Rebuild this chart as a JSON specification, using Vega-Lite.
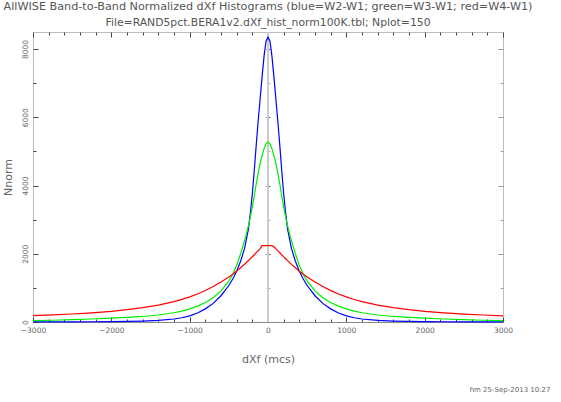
{
  "$schema": "https://vega.github.io/schema/vega-lite/v6.json",
  "width": 470,
  "height": 290,
  "autosize": {"type": "none"},
  "padding": {"left": 33, "top": 32, "right": 58, "bottom": 80},
  "background": "white",
  "config": {
    "font": "DejaVu Sans",
    "view": {"stroke": "#bdbdbd", "strokeWidth": 1},
    "axis": {"grid": false, "tickColor": "#444444", "tickWidth": 1, "labelColor": "#666666", "titleColor": "#666666", "titleFontWeight": "normal", "labelFont": "DejaVu Sans", "titleFont": "DejaVu Sans"}
  },
  "title": {
    "text": "AllWISE Band-to-Band Normalized dXf Histograms (blue=W2-W1; green=W3-W1; red=W4-W1)",
    "subtitle": "File=RAND5pct.BERA1v2.dXf_hist_norm100K.tbl; Nplot=150",
    "anchor": "middle",
    "frame": "group",
    "fontSize": 11.2,
    "fontWeight": "normal",
    "color": "#555555",
    "subtitleFontSize": 10.8,
    "subtitleColor": "#555555",
    "subtitlePadding": 5,
    "offset": 4
  },
  "data": {"values": [
    {"x":-3000,"n":3,"s":"b"},{"x":-2750,"n":4,"s":"b"},{"x":-2500,"n":5,"s":"b"},{"x":-2250,"n":7,"s":"b"},{"x":-2000,"n":11,"s":"b"},{"x":-1800,"n":16,"s":"b"},{"x":-1600,"n":26,"s":"b"},{"x":-1400,"n":46,"s":"b"},{"x":-1200,"n":88,"s":"b"},{"x":-1100,"n":125,"s":"b"},{"x":-1000,"n":180,"s":"b"},{"x":-900,"n":265,"s":"b"},{"x":-800,"n":385,"s":"b"},{"x":-700,"n":545,"s":"b"},{"x":-600,"n":770,"s":"b"},{"x":-500,"n":1070,"s":"b"},{"x":-450,"n":1260,"s":"b"},{"x":-400,"n":1490,"s":"b"},{"x":-350,"n":1780,"s":"b"},{"x":-300,"n":2150,"s":"b"},{"x":-250,"n":2720,"s":"b"},{"x":-225,"n":3200,"s":"b"},{"x":-200,"n":3750,"s":"b"},{"x":-175,"n":4450,"s":"b"},{"x":-150,"n":5200,"s":"b"},{"x":-125,"n":5900,"s":"b"},{"x":-100,"n":6550,"s":"b"},{"x":-75,"n":7200,"s":"b"},{"x":-50,"n":7800,"s":"b"},{"x":-25,"n":8230,"s":"b"},{"x":0,"n":8350,"s":"b"},
    {"x":25,"n":8230,"s":"b"},{"x":50,"n":7800,"s":"b"},{"x":75,"n":7200,"s":"b"},{"x":100,"n":6550,"s":"b"},{"x":125,"n":5900,"s":"b"},{"x":150,"n":5200,"s":"b"},{"x":175,"n":4450,"s":"b"},{"x":200,"n":3750,"s":"b"},{"x":225,"n":3200,"s":"b"},{"x":250,"n":2720,"s":"b"},{"x":300,"n":2150,"s":"b"},{"x":350,"n":1780,"s":"b"},{"x":400,"n":1490,"s":"b"},{"x":450,"n":1260,"s":"b"},{"x":500,"n":1070,"s":"b"},{"x":600,"n":770,"s":"b"},{"x":700,"n":545,"s":"b"},{"x":800,"n":385,"s":"b"},{"x":900,"n":265,"s":"b"},{"x":1000,"n":180,"s":"b"},{"x":1100,"n":125,"s":"b"},{"x":1200,"n":88,"s":"b"},{"x":1400,"n":46,"s":"b"},{"x":1600,"n":26,"s":"b"},{"x":1800,"n":16,"s":"b"},{"x":2000,"n":11,"s":"b"},{"x":2250,"n":7,"s":"b"},{"x":2500,"n":5,"s":"b"},{"x":2750,"n":4,"s":"b"},{"x":3000,"n":3,"s":"b"},
    {"x":-3000,"n":40,"s":"g"},{"x":-2750,"n":52,"s":"g"},{"x":-2500,"n":68,"s":"g"},{"x":-2250,"n":88,"s":"g"},{"x":-2000,"n":115,"s":"g"},{"x":-1800,"n":135,"s":"g"},{"x":-1600,"n":162,"s":"g"},{"x":-1400,"n":205,"s":"g"},{"x":-1200,"n":272,"s":"g"},{"x":-1100,"n":320,"s":"g"},{"x":-1000,"n":385,"s":"g"},{"x":-900,"n":465,"s":"g"},{"x":-800,"n":570,"s":"g"},{"x":-700,"n":710,"s":"g"},{"x":-600,"n":910,"s":"g"},{"x":-500,"n":1200,"s":"g"},{"x":-450,"n":1400,"s":"g"},{"x":-400,"n":1660,"s":"g"},{"x":-350,"n":2000,"s":"g"},{"x":-300,"n":2380,"s":"g"},{"x":-250,"n":2820,"s":"g"},{"x":-225,"n":3080,"s":"g"},{"x":-200,"n":3380,"s":"g"},{"x":-175,"n":3700,"s":"g"},{"x":-150,"n":4050,"s":"g"},{"x":-125,"n":4370,"s":"g"},{"x":-100,"n":4650,"s":"g"},{"x":-75,"n":4880,"s":"g"},{"x":-50,"n":5080,"s":"g"},{"x":-25,"n":5220,"s":"g"},{"x":0,"n":5275,"s":"g"},
    {"x":25,"n":5220,"s":"g"},{"x":50,"n":5080,"s":"g"},{"x":75,"n":4880,"s":"g"},{"x":100,"n":4650,"s":"g"},{"x":125,"n":4370,"s":"g"},{"x":150,"n":4050,"s":"g"},{"x":175,"n":3700,"s":"g"},{"x":200,"n":3380,"s":"g"},{"x":225,"n":3080,"s":"g"},{"x":250,"n":2820,"s":"g"},{"x":300,"n":2380,"s":"g"},{"x":350,"n":2000,"s":"g"},{"x":400,"n":1660,"s":"g"},{"x":450,"n":1400,"s":"g"},{"x":500,"n":1200,"s":"g"},{"x":600,"n":910,"s":"g"},{"x":700,"n":710,"s":"g"},{"x":800,"n":570,"s":"g"},{"x":900,"n":465,"s":"g"},{"x":1000,"n":385,"s":"g"},{"x":1100,"n":320,"s":"g"},{"x":1200,"n":272,"s":"g"},{"x":1400,"n":205,"s":"g"},{"x":1600,"n":162,"s":"g"},{"x":1800,"n":135,"s":"g"},{"x":2000,"n":115,"s":"g"},{"x":2250,"n":88,"s":"g"},{"x":2500,"n":68,"s":"g"},{"x":2750,"n":52,"s":"g"},{"x":3000,"n":40,"s":"g"},
    {"x":-3000,"n":185,"s":"r"},{"x":-2750,"n":207,"s":"r"},{"x":-2500,"n":234,"s":"r"},{"x":-2250,"n":270,"s":"r"},{"x":-2000,"n":314,"s":"r"},{"x":-1800,"n":362,"s":"r"},{"x":-1600,"n":422,"s":"r"},{"x":-1400,"n":497,"s":"r"},{"x":-1200,"n":597,"s":"r"},{"x":-1100,"n":662,"s":"r"},{"x":-1000,"n":737,"s":"r"},{"x":-900,"n":822,"s":"r"},{"x":-800,"n":922,"s":"r"},{"x":-700,"n":1042,"s":"r"},{"x":-600,"n":1172,"s":"r"},{"x":-500,"n":1322,"s":"r"},{"x":-450,"n":1402,"s":"r"},{"x":-400,"n":1492,"s":"r"},{"x":-350,"n":1592,"s":"r"},{"x":-300,"n":1692,"s":"r"},{"x":-250,"n":1802,"s":"r"},{"x":-225,"n":1857,"s":"r"},{"x":-200,"n":1912,"s":"r"},{"x":-175,"n":1972,"s":"r"},{"x":-150,"n":2032,"s":"r"},{"x":-125,"n":2092,"s":"r"},{"x":-100,"n":2152,"s":"r"},{"x":-75,"n":2236,"s":"r"},{"x":-50,"n":2236,"s":"r"},{"x":-25,"n":2236,"s":"r"},{"x":0,"n":2236,"s":"r"},
    {"x":25,"n":2236,"s":"r"},{"x":50,"n":2236,"s":"r"},{"x":75,"n":2205,"s":"r"},{"x":100,"n":2150,"s":"r"},{"x":125,"n":2090,"s":"r"},{"x":150,"n":2030,"s":"r"},{"x":175,"n":1970,"s":"r"},{"x":200,"n":1910,"s":"r"},{"x":225,"n":1855,"s":"r"},{"x":250,"n":1800,"s":"r"},{"x":300,"n":1690,"s":"r"},{"x":350,"n":1590,"s":"r"},{"x":400,"n":1490,"s":"r"},{"x":450,"n":1400,"s":"r"},{"x":500,"n":1320,"s":"r"},{"x":600,"n":1170,"s":"r"},{"x":700,"n":1040,"s":"r"},{"x":800,"n":920,"s":"r"},{"x":900,"n":820,"s":"r"},{"x":1000,"n":735,"s":"r"},{"x":1100,"n":660,"s":"r"},{"x":1200,"n":595,"s":"r"},{"x":1400,"n":495,"s":"r"},{"x":1600,"n":420,"s":"r"},{"x":1800,"n":360,"s":"r"},{"x":2000,"n":312,"s":"r"},{"x":2250,"n":268,"s":"r"},{"x":2500,"n":232,"s":"r"},{"x":2750,"n":205,"s":"r"},{"x":3000,"n":178,"s":"r"}
  ]},
  "resolve": {"axis": {"x": "independent", "y": "independent"}},
  "layer": [
    {
      "mark": {"type": "rule", "color": "#cccccc", "strokeWidth": 1},
      "encoding": {
        "x": {"datum": 0, "type": "quantitative", "scale": {"domain": [-3000, 3000], "nice": false, "zero": false}, "axis": null}
      }
    },
    {
      "mark": {"type": "line", "opacity": 0},
      "encoding": {
        "x": {"field": "x", "type": "quantitative", "scale": {"domain": [-3000, 3000], "nice": false, "zero": false},
          "axis": {"orient": "top", "values": [-3000,-2800,-2600,-2400,-2200,-2000,-1800,-1600,-1400,-1200,-1000,-800,-600,-400,-200,0,200,400,600,800,1000,1200,1400,1600,1800,2000,2200,2400,2600,2800,3000],
            "labels": false, "domain": false, "tickSize": {"condition": {"test": "datum.value % 1000 === 0", "value": -5}, "value": -3},
            "title": "hm 25-Sep-2013 10:27", "titleFontSize": 7, "titleX": 517, "titleY": 359, "titleAlign": "right", "titleBaseline": "alphabetic", "titleAngle": 0}},
        "y": {"field": "n", "type": "quantitative", "scale": {"domain": [0, 8500], "nice": false},
          "axis": {"orient": "right", "values": [1000,2000,3000,4000,5000,6000,7000,8000], "labels": false, "domain": false, "title": null,
            "tickSize": {"condition": {"test": "datum.value % 2000 === 0", "value": -5}, "value": -3}, "tickColor": "#999999"}},
        "detail": {"field": "s"}
      }
    },
    {
      "mark": {"type": "line", "opacity": 0},
      "encoding": {
        "x": {"field": "x", "type": "quantitative", "axis": null},
        "y": {"field": "n", "type": "quantitative",
          "axis": {"orient": "left", "offset": -237, "values": [1000,2000,3000,4000,5000,6000,7000,8000], "labels": false, "domain": false, "title": null,
            "tickSize": 4, "tickColor": {"condition": {"test": "datum.value % 2000 === 0", "value": "#555555"}, "value": "#aaaaaa"}}},
        "detail": {"field": "s"}
      }
    },
    {
      "mark": {"type": "line", "strokeWidth": 1.2},
      "encoding": {
        "x": {"field": "x", "type": "quantitative",
          "axis": {"orient": "bottom", "values": [-3000,-2800,-2600,-2400,-2200,-2000,-1800,-1600,-1400,-1200,-1000,-800,-600,-400,-200,0,200,400,600,800,1000,1200,1400,1600,1800,2000,2200,2400,2600,2800,3000],
            "format": "d", "labelExpr": "datum.value % 1000 === 0 ? datum.label : ''", "labelOverlap": false, "labelFlush": false, "labelFontSize": 7.5, "labelPadding": 9,
            "domainColor": "#888888", "tickSize": {"condition": {"test": "datum.value % 1000 === 0", "value": -5}, "value": -3},
            "title": "dXf (mcs)", "titleFontSize": 11, "titlePadding": 18}},
        "y": {"field": "n", "type": "quantitative",
          "axis": {"orient": "left", "values": [0,1000,2000,3000,4000,5000,6000,7000,8000],
            "format": "d", "labelExpr": "datum.value % 2000 === 0 ? datum.label : ''", "labelOverlap": false, "labelFlush": false, "labelFontSize": 7.5, "labelAngle": -90, "labelAlign": "center", "labelBaseline": "bottom", "labelPadding": 9,
            "domain": false, "tickSize": {"condition": {"test": "datum.value % 2000 === 0", "value": -5}, "value": -3},
            "title": "Nnorm", "titleFontSize": 11, "titleX": -25, "titleY": 145, "titleAngle": -90, "titleAlign": "center", "titleBaseline": "middle"}},
        "color": {"field": "s", "type": "nominal", "scale": {"domain": ["b", "g", "r"], "range": ["#0000ff", "#00ee00", "#ff0000"]}, "legend": null}
      }
    }
  ]
}
